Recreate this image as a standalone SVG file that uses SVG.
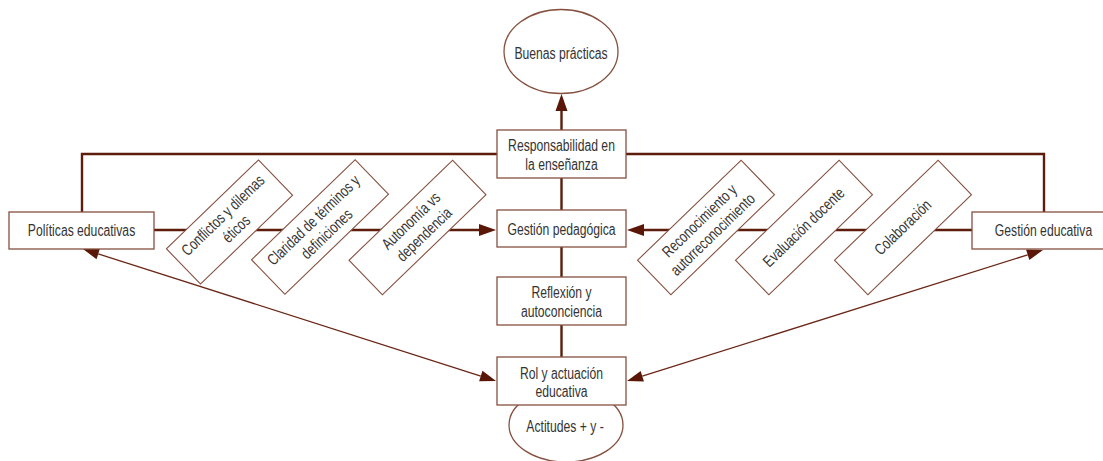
<svg xmlns="http://www.w3.org/2000/svg" width="1103" height="461" viewBox="0 0 1103 461">
<style>
.bx{fill:#fff;stroke:#86503f;stroke-width:1.3}
.dm{fill:#fff;stroke:#86503f;stroke-width:1.1}
.t{font-family:"Liberation Sans",Arial,sans-serif;font-size:16px;fill:#333;text-anchor:middle}
.th{fill:none;stroke:#5e1d0c;stroke-width:2.4}
.tn{fill:none;stroke:#6a2616;stroke-width:1.3}
</style>
<defs>
<marker id="ah" markerUnits="userSpaceOnUse" markerWidth="18" markerHeight="13" refX="0" refY="6" orient="auto-start-reverse" overflow="visible"><path d="M0,0 L17,6 L0,12 z" fill="#5a1606"/></marker>
<marker id="as" markerUnits="userSpaceOnUse" markerWidth="16" markerHeight="11" refX="0" refY="5.5" orient="auto-start-reverse" overflow="visible"><path d="M0,0 L16,5.5 L0,11 z" fill="#5a1606"/></marker>
</defs>
<rect width="1103" height="461" fill="#fff"/>
<g id="connectors">
<path class="th" d="M82,212 V154 H497"/>
<path class="th" d="M626,154 H1044 V212"/>
<path class="th" d="M561.5,130 V111" marker-end="url(#ah)"/>
<path class="th" d="M561.5,178 V210"/>
<path class="th" d="M561.5,247 V277"/>
<path class="th" d="M561.5,325 V357"/>
<path class="th" d="M154,230 H479" marker-end="url(#ah)"/>
<path class="th" d="M972,230 H644" marker-end="url(#ah)"/>
<path class="tn" d="M98.2,253.9 L480.8,376.1" marker-start="url(#as)" marker-end="url(#as)"/>
<path class="tn" d="M642.3,376.2 L1027.7,254.8" marker-start="url(#as)" marker-end="url(#as)"/>
</g>
<g id="buenas"><ellipse class="bx" cx="561" cy="51.5" rx="57" ry="42"/><g transform="translate(561,0) scale(0.76,1)"><text class="t" y="59">Buenas prácticas</text></g></g>
<g id="actitudes"><ellipse class="bx" cx="566" cy="425" rx="57" ry="37"/><g transform="translate(565,0) scale(0.76,1)"><text class="t" y="432">Actitudes + y -</text></g></g>
<g id="responsabilidad"><rect class="bx" x="497" y="130" width="129" height="48"/><g transform="translate(561.5,0) scale(0.76,1)"><text class="t" y="151.5">Responsabilidad en</text><text class="t" y="170.5">la enseñanza</text></g></g>
<g id="gestion-pedagogica"><rect class="bx" x="497" y="210" width="129" height="37"/><g transform="translate(561.5,0) scale(0.76,1)"><text class="t" y="235">Gestión pedagógica</text></g></g>
<g id="reflexion"><rect class="bx" x="497" y="277" width="129" height="48"/><g transform="translate(561.5,0) scale(0.76,1)"><text class="t" y="298.5">Reflexión y</text><text class="t" y="317">autoconciencia</text></g></g>
<g id="rol"><rect class="bx" x="497" y="357" width="129" height="48"/><g transform="translate(561.5,0) scale(0.76,1)"><text class="t" y="379">Rol y actuación</text><text class="t" y="397.5">educativa</text></g></g>
<g id="politicas"><rect class="bx" x="9" y="212" width="145" height="37"/><g transform="translate(81.5,0) scale(0.76,1)"><text class="t" y="236.5">Políticas educativas</text></g></g>
<g id="gestion-educativa"><rect class="bx" x="972" y="212" width="145" height="37"/><g transform="translate(1043.5,0) scale(0.76,1)"><text class="t" y="236.5">Gestión educativa</text></g></g>
<g id="conflictos" transform="translate(229.5,222) rotate(-44)"><rect class="dm" x="-64" y="-24.5" width="128" height="49"/><g transform="scale(0.76,1)"><text class="t" y="-4">Conflictos y dilemas</text><text class="t" y="15">éticos</text></g></g>
<g id="claridad" transform="translate(320,227) rotate(-44)"><rect class="dm" x="-72" y="-24" width="144" height="48"/><g transform="scale(0.76,1)"><text class="t" y="-4">Claridad de términos y</text><text class="t" y="15">definiciones</text></g></g>
<g id="autonomia" transform="translate(417.5,227.5) rotate(-44)"><rect class="dm" x="-72" y="-24" width="144" height="48"/><g transform="scale(0.76,1)"><text class="t" y="-4">Autonomía vs</text><text class="t" y="15">dependencia</text></g></g>
<g id="reconocimiento" transform="translate(706,227.5) rotate(-44)"><rect class="dm" x="-72" y="-24" width="144" height="48"/><g transform="scale(0.76,1)"><text class="t" y="-4">Reconocimiento y</text><text class="t" y="15">autorreconocimiento</text></g></g>
<g id="evaluacion" transform="translate(804,227.5) rotate(-44)"><rect class="dm" x="-72" y="-24" width="144" height="48"/><g transform="scale(0.76,1)"><text class="t" y="5">Evaluación docente</text></g></g>
<g id="colaboracion" transform="translate(903,227.5) rotate(-44)"><rect class="dm" x="-72" y="-24" width="144" height="48"/><g transform="scale(0.76,1)"><text class="t" y="5">Colaboración</text></g></g>
</svg>
